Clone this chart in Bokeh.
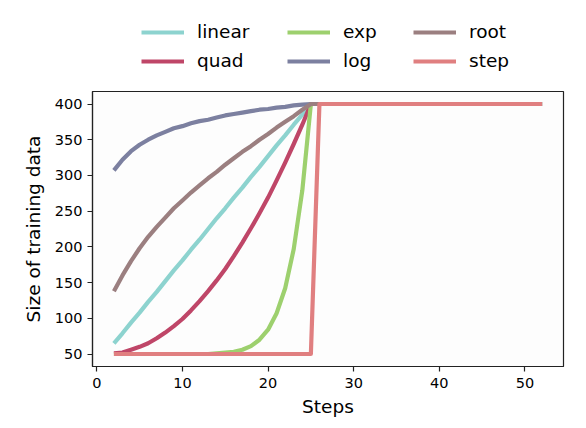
from bokeh.plotting import figure
from bokeh.models import Range1d, Legend, LegendItem, FixedTicker
from bokeh.layouts import column
from bokeh.embed import file_html
from bokeh.resources import INLINE

steps = list(range(2, 53))

linear = [65, 79, 94, 108, 123, 137, 152, 167, 181, 196, 210, 225, 240, 254, 269, 283,
          298, 312, 327, 342, 356, 371, 385, 400,
          400, 400, 400, 400, 400, 400, 400, 400, 400, 400, 400, 400, 400, 400,
          400, 400, 400, 400, 400, 400, 400, 400, 400, 400, 400, 400, 400]
quad = [51, 52, 56, 60, 65, 72, 80, 89, 99, 111, 124, 138, 153, 169, 187, 206,
        226, 247, 269, 293, 318, 344, 371, 400,
        400, 400, 400, 400, 400, 400, 400, 400, 400, 400, 400, 400, 400, 400,
        400, 400, 400, 400, 400, 400, 400, 400, 400, 400, 400, 400, 400]
exp = [50, 50, 50, 50, 50, 50, 50, 50, 50, 50, 50, 50, 51, 52, 53, 56,
       61, 70, 84, 107, 142, 197, 279, 400,
       400, 400, 400, 400, 400, 400, 400, 400, 400, 400, 400, 400, 400, 400,
       400, 400, 400, 400, 400, 400, 400, 400, 400, 400, 400, 400, 400]
log = [307, 322, 334, 343, 350, 356, 361, 366, 369, 373, 376, 378, 381, 384, 386, 388,
       390, 392, 393, 395, 396, 398, 399, 400,
       400, 400, 400, 400, 400, 400, 400, 400, 400, 400, 400, 400, 400, 400,
       400, 400, 400, 400, 400, 400, 400, 400, 400, 400, 400, 400, 400]
root = [138, 160, 180, 198, 214, 228, 241, 254, 265, 276, 286, 296, 305, 315, 324, 333,
        341, 350, 358, 367, 375, 383, 392, 400,
        400, 400, 400, 400, 400, 400, 400, 400, 400, 400, 400, 400, 400, 400,
        400, 400, 400, 400, 400, 400, 400, 400, 400, 400, 400, 400, 400]
step = [50, 50, 50, 50, 50, 50, 50, 50, 50, 50, 50, 50, 50, 50, 50, 50,
        50, 50, 50, 50, 50, 50, 50, 50,
        400, 400, 400, 400, 400, 400, 400, 400, 400, 400, 400, 400, 400, 400,
        400, 400, 400, 400, 400, 400, 400, 400, 400, 400, 400, 400, 400]

names = ["linear", "quad", "exp", "log", "root", "step"]
series = [linear, quad, exp, log, root, step]
colors = ["#8dd3cf", "#bf4668", "#9dd06e", "#7c80a0", "#9b7f80", "#e07f80"]

x_ticks = [0, 10, 20, 30, 40, 50]
y_ticks = [50, 100, 150, 200, 250, 300, 350, 400]

FONT = "DejaVu Sans"
LINE_W = 4.2

# ---------------- main chart ----------------
p = figure(width=578, height=334, output_backend="svg", toolbar_location=None,
           x_range=Range1d(-0.5, 54.5), y_range=Range1d(32.5, 417.5),
           min_border_left=92, min_border_right=15, min_border_top=5, min_border_bottom=54)

p.background_fill_color = "#fdfdfd"
p.border_fill_color = "white"
p.outline_line_color = "#222222"
p.outline_line_width = 1.2
p.grid.visible = False

for name, ys, c in zip(names, series, colors):
    p.line(steps, ys, line_color=c, line_width=LINE_W, line_join="round")

for ax in (p.xaxis[0], p.yaxis[0]):
    ax.axis_line_color = "#222222"
    ax.axis_line_width = 1.2
    ax.major_tick_line_color = "#222222"
    ax.major_tick_line_width = 1.2
    ax.major_tick_out = 5
    ax.major_tick_in = 0
    ax.minor_tick_line_color = None
    ax.major_label_text_font = FONT
    ax.major_label_text_font_size = "14.5px"
    ax.major_label_text_color = "black"
    ax.axis_label_text_font = FONT
    ax.axis_label_text_font_size = "18.5px"
    ax.axis_label_text_font_style = "normal"
    ax.axis_label_text_color = "black"

p.xaxis[0].ticker = FixedTicker(ticks=x_ticks)
p.yaxis[0].ticker = FixedTicker(ticks=y_ticks)
p.xaxis[0].axis_label = "Steps"
p.yaxis[0].axis_label = "Size of training data"
p.xaxis[0].major_label_standoff = 6
p.yaxis[0].major_label_standoff = 5
p.xaxis[0].axis_label_standoff = 5
p.yaxis[0].axis_label_standoff = 8

# ---------------- legend strip ----------------
lf = figure(width=578, height=86, output_backend="svg", toolbar_location=None,
            x_range=Range1d(0, 578), y_range=Range1d(0, 86),
            x_axis_location=None, y_axis_location=None,
            min_border=0, min_border_left=0, min_border_right=0,
            min_border_top=0, min_border_bottom=0)
lf.grid.visible = False
lf.outline_line_color = None
lf.background_fill_color = "white"
lf.border_fill_color = "white"

# legend handles: line renderers placed outside the visible range
handles = {}
for name, c in zip(names, colors):
    handles[name] = lf.line([-50, -40], [-50, -50], line_color=c, line_width=LINE_W)

legend_columns = [["linear", "quad"], ["exp", "log"], ["root", "step"]]
column_x = [49, 195, 321]   # offsets from the (aligned) frame's left edge
for col_names, cx in zip(legend_columns, column_x):
    lg = Legend(items=[LegendItem(label=n, renderers=[handles[n]]) for n in col_names],
                orientation="vertical", location=(cx, 15))
    lg.label_text_font = FONT
    lg.label_text_font_size = "18.5px"
    lg.label_text_color = "black"
    lg.glyph_width = 43
    lg.glyph_height = 20
    lg.label_height = 20
    lg.label_standoff = 13
    lg.spacing = 8
    lg.padding = 0
    lg.margin = 0
    lg.border_line_color = None
    lg.background_fill_alpha = 0
    lf.add_layout(lg, "center")

layout = column(lf, p, spacing=0)
open("out.html", "w").write(file_html(layout, INLINE))
